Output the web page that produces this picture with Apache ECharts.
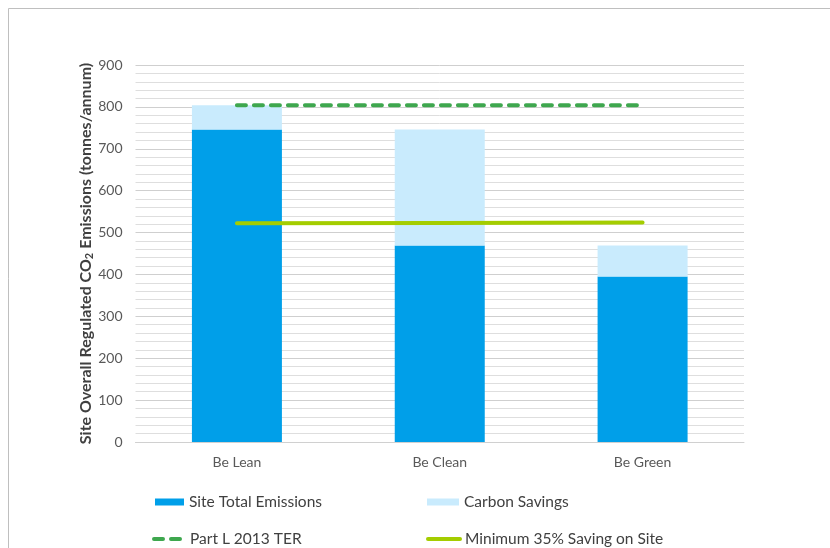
<!DOCTYPE html>
<html>
<head>
<meta charset="utf-8">
<script src="https://cdn.jsdelivr.net/npm/echarts@6/dist/echarts.min.js"></script>
<style>
  html, body { margin: 0; padding: 0; background: #fff; }
  #chart { width: 830px; height: 548px; }
</style>
</head>
<body>
<div id="chart"></div>
<script>
// Scenario stages
const categories = ['Be Lean', 'Be Clean', 'Be Green'];
// Regulated CO2 emissions remaining at each stage (tonnes/annum)
const siteTotalEmissions = [746, 469, 395];
// Savings achieved at each stage, stacked on top of the emissions
const carbonSavings = [58, 277, 74];
// Part L 2013 Target Emission Rate
const partLTer = [804, 804, 804];
// 35% on-site saving target
const minimumSaving = [522, 523, 524];
// Value axis ticks
const yMin = 0, yMax = 900, yStep = 100;

const FONT = 'Lato, "Open Sans", sans-serif';
const TEXT = '#595959';

const chart = echarts.init(document.getElementById('chart'), null, { renderer: 'canvas' });

const legendText = { fontFamily: FONT, fontSize: 15.5, color: '#404040' };
// hide the marker dot on line legend icons, keep only the stroke
const noMarker = { color: 'transparent', borderWidth: 0, opacity: 0 };

chart.setOption({
  backgroundColor: '#ffffff',
  animation: false,
  graphic: [{
    type: 'rect',
    shape: { x: 8.5, y: 8.5, width: 840, height: 560 },
    style: { fill: 'none', stroke: '#bfbfbf', lineWidth: 1 },
    silent: true
  }],
  grid: { left: 135.5, right: 86, top: 65, bottom: 106 },
  legend: [
    { data: ['Site Total Emissions'], left: 150, top: 489, icon: 'rect', itemWidth: 29, itemHeight: 7, textStyle: legendText, selectedMode: false },
    { data: ['Carbon Savings'], left: 422, top: 489, icon: 'rect', itemWidth: 32, itemHeight: 7, textStyle: legendText, selectedMode: false },
    { data: ['Part L 2013 TER'], left: 147, top: 526, itemWidth: 31, itemHeight: 14, itemStyle: noMarker,
      lineStyle: { width: 4, cap: 'round' }, textStyle: legendText, selectedMode: false },
    { data: ['Minimum 35% Saving on Site'], left: 421, top: 526, itemWidth: 32, itemHeight: 14, itemStyle: noMarker,
      lineStyle: { width: 4, cap: 'round' }, textStyle: legendText, selectedMode: false }
  ],
  xAxis: {
    type: 'category',
    data: categories,
    boundaryGap: true,
    axisLine: { show: true, lineStyle: { color: '#d0d0d0', width: 1 } },
    axisTick: { show: false },
    axisLabel: { fontFamily: FONT, fontSize: 14, color: TEXT, margin: 13 }
  },
  yAxis: {
    type: 'value',
    min: yMin,
    max: yMax,
    interval: yStep,
    name: '{b|Site Overall Regulated CO}{s|2}{b| Emissions (tonnes/annum)}',
    nameLocation: 'middle',
    nameGap: 40,
    nameMoveOverlap: false,
    nameRotate: 90,
    nameTextStyle: {
      rich: {
        b: { fontFamily: FONT, fontSize: 16, fontWeight: 'bold', color: '#404040', lineHeight: 20 },
        s: { fontFamily: FONT, fontSize: 11, fontWeight: 'bold', color: '#404040', lineHeight: 20, padding: [7, 0, 0, 0] }
      }
    },
    axisLine: { show: false },
    axisTick: { show: false },
    axisLabel: { fontFamily: FONT, fontSize: 14, color: TEXT, margin: 13 },
    splitLine: { show: true, lineStyle: { color: '#cfcfcf', width: 1 } },
    minorTick: { show: false, splitNumber: 5 },
    minorSplitLine: { show: true, lineStyle: { color: '#dedede', width: 1 } }
  },
  series: [
    {
      name: 'Site Total Emissions',
      type: 'bar',
      stack: 'total',
      data: siteTotalEmissions,
      barWidth: 90,
      itemStyle: { color: '#009fe9' }
    },
    {
      name: 'Carbon Savings',
      type: 'bar',
      stack: 'total',
      data: carbonSavings,
      barWidth: 90,
      itemStyle: { color: '#c9ebfd' }
    },
    {
      name: 'Part L 2013 TER',
      type: 'line',
      data: partLTer,
      symbol: 'none',
      itemStyle: { color: '#3ea74e' },
      lineStyle: { color: '#3ea74e', width: 4, type: [9, 8], cap: 'round' },
      z: 5
    },
    {
      name: 'Minimum 35% Saving on Site',
      type: 'line',
      data: minimumSaving,
      symbol: 'none',
      itemStyle: { color: '#a4cd00' },
      lineStyle: { color: '#a4cd00', width: 4, cap: 'round' },
      z: 5
    }
  ]
});
</script>
</body>
</html>
